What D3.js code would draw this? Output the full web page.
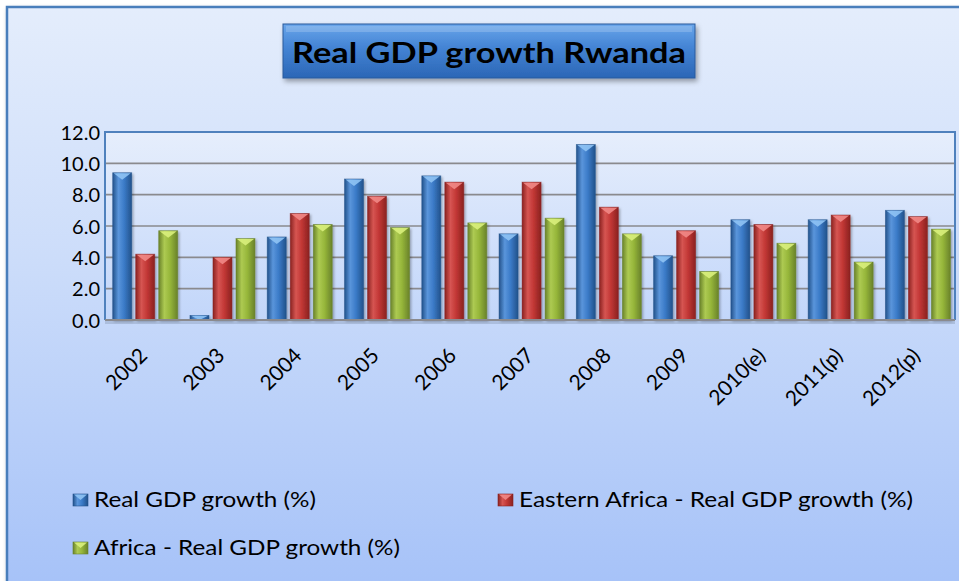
<!DOCTYPE html>
<html>
<head>
<meta charset="utf-8">
<script src="https://cdn.jsdelivr.net/npm/d3@7"></script>
<style>
  html, body { margin: 0; padding: 0; background: #ffffff; }
  svg { display: block; font-family: Lato, "Open Sans", sans-serif; }
</style>
</head>
<body>
<svg id="chart" width="959" height="581"></svg>
<script>
// Real GDP growth, Rwanda vs. Eastern Africa vs. Africa (%)
const categories = ["2002", "2003", "2004", "2005", "2006", "2007", "2008", "2009", "2010(e)", "2011(p)", "2012(p)"];
const rwanda        = [9.4, 0.3, 5.3, 9.0, 9.2, 5.5, 11.2, 4.1, 6.4, 6.4, 7.0];
const easternAfrica = [4.2, 4.0, 6.8, 7.9, 8.8, 8.8, 7.2, 5.7, 6.1, 6.7, 6.6];
const africa        = [5.7, 5.2, 6.1, 5.9, 6.2, 6.5, 5.5, 3.1, 4.9, 3.7, 5.8];
const seriesNames = ["Real GDP growth (%)", "Eastern Africa - Real GDP growth (%)", "Africa - Real GDP growth (%)"];
const yTicks = [0, 2, 4, 6, 8, 10, 12];
const titleText = "Real GDP growth Rwanda";

const seriesValues = [rwanda, easternAfrica, africa];
const palettes = [
  { dark: "#22528b", mid: "#3b7bc8", light: "#5a95db", cap: "#8fc3f4" },
  { dark: "#8a2220", mid: "#c23735", light: "#d65552", cap: "#f18886" },
  { dark: "#69822a", mid: "#96b63a", light: "#adca52", cap: "#d9ef7c" }
];

const svg = d3.select("#chart");
const W = 959, H = 581;
const plot = { left: 105, right: 955, top: 132, bottom: 320 };

const defs = svg.append("defs");

// background gradient of the chart area
const bg = defs.append("linearGradient").attr("id", "bg").attr("x1", 0).attr("y1", 0).attr("x2", 0).attr("y2", 1);
bg.append("stop").attr("offset", "0%").attr("stop-color", "#e4edfc");
bg.append("stop").attr("offset", "45%").attr("stop-color", "#cbdcfa");
bg.append("stop").attr("offset", "100%").attr("stop-color", "#a6c2f8");

const pg = defs.append("linearGradient").attr("id", "plotbg").attr("x1", 0).attr("y1", 0).attr("x2", 0).attr("y2", 1);
pg.append("stop").attr("offset", "0%").attr("stop-color", "#e6eefc");
pg.append("stop").attr("offset", "100%").attr("stop-color", "#c2d6fa");

// title box gradient
const tg = defs.append("linearGradient").attr("id", "titlebg").attr("x1", 0).attr("y1", 0).attr("x2", 0).attr("y2", 1);
tg.append("stop").attr("offset", "0%").attr("stop-color", "#6aa6ea");
tg.append("stop").attr("offset", "40%").attr("stop-color", "#4686d6");
tg.append("stop").attr("offset", "100%").attr("stop-color", "#2b66b6");

const shadow = defs.append("filter").attr("id", "shadow").attr("x", "-10%").attr("y", "-10%").attr("width", "130%").attr("height", "140%");
shadow.append("feDropShadow").attr("dx", 2).attr("dy", 3).attr("stdDeviation", 2.5).attr("flood-color", "#000").attr("flood-opacity", 0.35);

const barShadow = defs.append("filter").attr("id", "barshadow").attr("x", "-20%").attr("y", "-5%").attr("width", "150%").attr("height", "115%");
barShadow.append("feDropShadow").attr("dx", 1.5).attr("dy", 1.5).attr("stdDeviation", 1.2).attr("flood-color", "#000").attr("flood-opacity", 0.3);

palettes.forEach((p, i) => {
  const g = defs.append("linearGradient").attr("id", "bar" + i).attr("x1", 0).attr("y1", 0).attr("x2", 1).attr("y2", 0);
  g.append("stop").attr("offset", "0%").attr("stop-color", p.dark);
  g.append("stop").attr("offset", "30%").attr("stop-color", p.light);
  g.append("stop").attr("offset", "60%").attr("stop-color", p.mid);
  g.append("stop").attr("offset", "100%").attr("stop-color", p.dark);
});

// outer chart frame
svg.append("rect").attr("x", 7).attr("y", 7).attr("width", W).attr("height", H)
  .attr("fill", "url(#bg)").attr("stroke", "#4a7ebb").attr("stroke-width", 2.5)
  .attr("filter", "url(#shadow)");

// title box
const titleG = svg.append("g");
titleG.append("rect").attr("x", 283).attr("y", 24).attr("width", 412).attr("height", 54)
  .attr("fill", "url(#titlebg)").attr("stroke", "#2a5a9c").attr("stroke-width", 1)
  .attr("filter", "url(#shadow)");
titleG.append("rect").attr("x", 286).attr("y", 26).attr("width", 406).attr("height", 6)
  .attr("fill", "#ffffff").attr("opacity", 0.18);
titleG.append("text").attr("x", 489).attr("y", 63).attr("text-anchor", "middle")
  .attr("font-size", 29).attr("font-weight", "bold").attr("fill", "#000")
  .attr("textLength", 394).attr("lengthAdjust", "spacingAndGlyphs")
  .text(titleText);

// scales
const x0 = d3.scaleBand().domain(categories).range([plot.left, plot.right]);
const x1 = d3.scaleBand().domain(d3.range(3)).range([7.7, 72.7]).paddingInner(4 / 23);
const y = d3.scaleLinear().domain([0, 12]).range([plot.bottom, plot.top]);

// plot area
svg.append("rect").attr("x", plot.left).attr("y", plot.top)
  .attr("width", plot.right - plot.left).attr("height", plot.bottom - plot.top)
  .attr("fill", "url(#plotbg)");

// gridlines
svg.append("g").selectAll("line").data(yTicks.filter(t => t > 0 && t < 12)).join("line")
  .attr("x1", plot.left).attr("x2", plot.right)
  .attr("y1", d => y(d)).attr("y2", d => y(d))
  .attr("stroke", "#8a8a8e").attr("stroke-width", 1.6);

// plot border (top, left, right)
svg.append("path")
  .attr("d", `M${plot.left},${plot.bottom}V${plot.top}H${plot.right}V${plot.bottom}`)
  .attr("fill", "none").attr("stroke", "#4f81bd").attr("stroke-width", 2);

// bars
const groups = svg.append("g").selectAll("g").data(categories).join("g")
  .attr("transform", d => `translate(${x0(d)},0)`);

groups.each(function (cat, ci) {
  const g = d3.select(this);
  seriesValues.forEach((vals, si) => {
    const v = vals[ci];
    const bx = x1(si), bw = x1.bandwidth();
    const top = y(v), h = y(0) - y(v);
    const bar = g.append("g");
    bar.append("rect").attr("x", bx).attr("y", top).attr("width", bw).attr("height", h)
      .attr("fill", `url(#bar${si})`).attr("stroke", palettes[si].dark).attr("stroke-opacity", 0.6)
      .attr("stroke-width", 0.8).attr("filter", "url(#barshadow)");
    const capH = Math.min(7, h);
    bar.append("path")
      .attr("d", `M${bx + 1},${top + 0.5}H${bx + bw - 1}L${bx + bw / 2},${top + capH}Z`)
      .attr("fill", palettes[si].cap).attr("opacity", 0.9);
  });
});

// x axis line with soft shadow
svg.append("rect").attr("x", plot.left).attr("y", plot.bottom).attr("width", plot.right - plot.left).attr("height", 4)
  .attr("fill", "#7f8fa8").attr("opacity", 0.35);
svg.append("line").attr("x1", plot.left).attr("x2", plot.right)
  .attr("y1", plot.bottom).attr("y2", plot.bottom)
  .attr("stroke", "#8a8a8e").attr("stroke-width", 2);

// y axis labels
const yAxis = d3.axisLeft(y).tickValues(yTicks).tickFormat(d3.format(".1f")).tickSize(0).tickPadding(5);
const yG = svg.append("g").attr("transform", `translate(${plot.left},0)`).call(yAxis);
yG.select(".domain").remove();
yG.selectAll("text").attr("font-size", 20).attr("fill", "#000").attr("font-family", "Lato, sans-serif")
  .attr("dy", "0.36em");

// x axis labels, rotated
svg.append("g").selectAll("text").data(categories).join("text")
  .attr("transform", d => `translate(${x0(d) + x0.bandwidth() / 2 + 5},${357}) rotate(-45)`)
  .attr("text-anchor", "end").attr("font-size", 21).attr("fill", "#000")
  .text(d => d);

// legend
const legendItems = [
  { i: 0, x: 73, y: 507 },
  { i: 1, x: 498, y: 507 },
  { i: 2, x: 73, y: 555 }
];
const legendWidths = [222, 394, 306];
const lg = svg.append("g").selectAll("g").data(legendItems).join("g")
  .attr("transform", d => `translate(${d.x},${d.y})`);
lg.append("rect").attr("x", 0).attr("y", -13).attr("width", 15).attr("height", 12)
  .attr("fill", d => `url(#bar${d.i})`).attr("stroke", d => palettes[d.i].dark).attr("stroke-width", 0.6);
lg.append("path").attr("d", "M1,-12.5H14L7.5,-7Z").attr("fill", d => palettes[d.i].cap).attr("opacity", 0.9);
lg.append("text").attr("x", 21).attr("y", 0).attr("font-size", 22).attr("fill", "#000")
  .attr("textLength", d => legendWidths[d.i]).attr("lengthAdjust", "spacingAndGlyphs")
  .text(d => seriesNames[d.i]);
</script>
</body>
</html>
